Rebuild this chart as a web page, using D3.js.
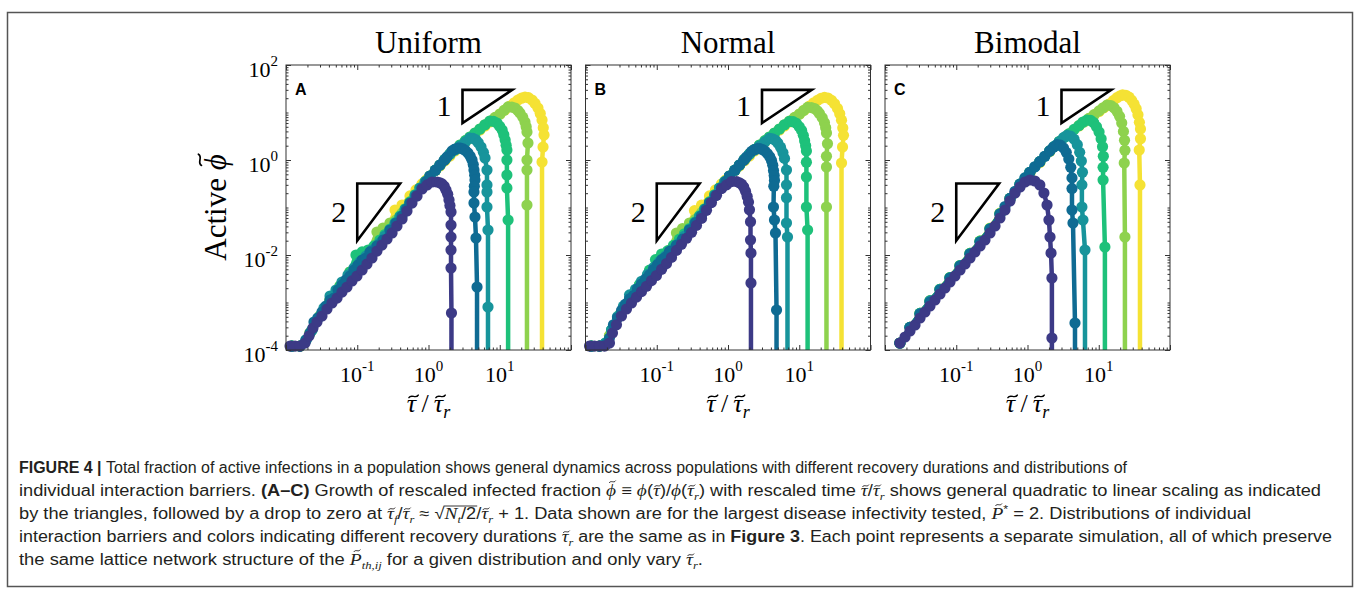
<!DOCTYPE html>
<html><head><meta charset="utf-8">
<script src="https://cdn.jsdelivr.net/npm/d3@7"></script>
<style>body{margin:0;background:#fff}svg{display:block}</style>
</head><body>
<svg id="chart" width="1360" height="592"></svg>
<script>
// ---------------- DATA ----------------
const panelTitles = ["Uniform", "Normal", "Bimodal"];
const panelLetters = ["A", "B", "C"];
const xTickValues = [0.1, 1, 10];
const xTickExponents = ["-1", "0", "1"];
const yTickValues = [1e-4, 1e-2, 1, 100];
const yTickExponents = ["-4", "-2", "0", "2"];
const slopeOneTriangleX = [3, 15];
const slopeOneTriangleY = [6, 30];
const slopeTwoTriangleX = [0.1, 0.4];
const slopeTwoTriangleY = [0.02, 0.32];
const triangleLabels = ["1", "2"];

// Uniform (A): series ordered from shortest to longest recovery duration
const uniform1 = [[0.0114,1.21e-4],[0.0134,1.21e-4],[0.0157,1.21e-4],[0.0185,1.40e-4],[0.0210,1.97e-4],[0.0239,2.90e-4],[0.0272,3.88e-4],[0.0320,5.20e-4],[0.0376,7.30e-4],[0.0442,9.76e-4],[0.0520,1.24e-3],[0.0611,1.66e-3],[0.0718,2.12e-3],[0.0844,2.84e-3],[0.0991,3.61e-3],[0.117,4.83e-3],[0.137,6.47e-3],[0.161,8.65e-3],[0.189,0.0121],[0.222,0.0162],[0.262,0.0217],[0.308,0.0291],[0.361,0.0408],[0.425,0.0573],[0.499,0.0844],[0.586,0.124],[0.690,0.175],[0.811,0.245],[0.953,0.298],[1.12,0.344],[1.32,0.344],[1.45,0.330],[1.55,0.313],[1.66,0.280],[1.76,0.234],[1.86,0.190],[1.94,0.144],[2.00,0.110],[2.07,0.0804],[2.07,0.0428],[2.07,0.0239],[2.07,0.0127],[2.07,5.32e-3],[2.10,6.01e-4],[2.10,0]];
const uniform2 = [[0.0121,1.21e-4],[0.0157,1.21e-4],[0.0191,1.62e-4],[0.0217,2.28e-4],[0.0247,3.88e-4],[0.0281,4.72e-4],[0.0320,6.31e-4],[0.0364,8.44e-4],[0.0415,1.13e-3],[0.0472,1.24e-3],[0.0537,1.83e-3],[0.0611,2.34e-3],[0.0695,2.98e-3],[0.0791,3.61e-3],[0.0900,4.83e-3],[0.1025,6.16e-3],[0.117,7.85e-3],[0.133,8.65e-3],[0.151,0.0116],[0.189,0.0155],[0.230,0.0207],[0.288,0.0336],[0.350,0.0472],[0.425,0.0662],[0.490,0.092],[0.550,0.124],[0.668,0.175],[0.811,0.257],[0.930,0.350],[1.05,0.460],[1.25,0.610],[1.45,0.785],[1.65,0.970],[1.82,1.16],[2.14,1.55],[2.35,1.70],[2.59,1.79],[2.80,1.78],[3.05,1.71],[3.30,1.58],[3.58,1.40],[3.85,1.20],[4.08,1.00],[4.25,0.80],[4.35,0.616],[4.45,0.48],[4.49,0.379],[4.40,0.280],[4.35,0.212],[4.35,0.124],[4.49,0.0631],[4.64,0.0228],[4.80,2.12e-3],[4.80,0]];
const uniform3 = [[0.0121,1.21e-4],[0.0157,1.21e-4],[0.0191,1.62e-4],[0.0232,2.64e-4],[0.0281,4.72e-4],[0.0341,7.66e-4],[0.0415,1.37e-3],[0.0503,1.83e-3],[0.0611,2.70e-3],[0.0741,3.79e-3],[0.0900,5.32e-3],[0.109,7.12e-3],[0.133,9.53e-3],[0.161,0.0127],[0.208,0.0179],[0.245,0.025],[0.288,0.0336],[0.340,0.046],[0.398,0.0631],[0.470,0.090],[0.550,0.124],[0.650,0.180],[0.760,0.257],[0.900,0.350],[1.05,0.460],[1.25,0.610],[1.45,0.785],[1.70,1.03],[2.00,1.34],[2.35,1.63],[2.77,1.97],[3.30,2.40],[3.82,2.90],[4.20,2.85],[4.64,2.64],[5.00,2.30],[5.46,1.88],[5.90,1.45],[6.21,1.10],[6.62,0.616],[6.62,0.298],[6.62,0.212],[6.62,0.1025],[6.84,0.0336],[6.84,8.03e-4],[6.84,0]];
const uniform4 = [[0.0121,1.21e-4],[0.0157,1.21e-4],[0.0191,1.62e-4],[0.0232,2.64e-4],[0.0300,5.20e-4],[0.0415,1.13e-3],[0.0573,2.22e-3],[0.0791,4.39e-3],[0.0960,0.0100],[0.117,0.0116],[0.142,0.0127],[0.172,0.0155],[0.208,0.0207],[0.245,0.027],[0.288,0.0352],[0.340,0.048],[0.398,0.0662],[0.470,0.094],[0.550,0.131],[0.650,0.185],[0.760,0.257],[0.900,0.350],[1.05,0.460],[1.25,0.610],[1.45,0.785],[1.70,1.03],[2.00,1.34],[2.35,1.66],[2.77,2.07],[3.30,2.55],[3.82,3.05],[4.50,3.70],[5.28,4.49],[6.20,5.50],[7.29,6.62],[8.20,6.50],[9.15,6.01],[10.0,5.10],[10.8,4.28],[11.4,3.40],[11.9,2.64],[12.3,2.05],[12.6,1.62],[12.6,1.00],[12.6,0.483],[12.6,0.257],[13.1,0.0546],[13.1,0]];
const uniform5 = [[0.0121,1.21e-4],[0.0157,1.21e-4],[0.0217,2.28e-4],[0.0300,5.20e-4],[0.0415,1.13e-3],[0.0573,2.22e-3],[0.0791,4.39e-3],[0.109,7.12e-3],[0.151,0.0127],[0.189,0.0305],[0.230,0.0370],[0.288,0.0472],[0.350,0.0546],[0.425,0.0766],[0.550,0.131],[0.650,0.185],[0.760,0.257],[0.900,0.350],[1.05,0.460],[1.25,0.610],[1.45,0.785],[1.70,1.03],[2.00,1.34],[2.35,1.66],[2.77,2.07],[3.30,2.55],[3.82,3.05],[4.50,3.70],[5.28,4.49],[6.20,5.50],[7.29,6.62],[8.60,7.90],[10.1,9.30],[11.5,11.1],[13.1,13.1],[14.8,13.0],[16.4,12.4],[18.0,11.0],[19.2,9.76],[21.0,8.0],[22.6,6.31],[23.5,5.0],[24.1,3.88],[24.9,2.28],[24.1,1.00],[24.1,0.616],[24.1,0.113],[24.1,0]];
const uniform6 = [[0.0121,1.21e-4],[0.0157,1.21e-4],[0.0217,2.28e-4],[0.0300,5.20e-4],[0.0415,1.13e-3],[0.0573,2.22e-3],[0.0791,4.39e-3],[0.109,7.12e-3],[0.151,0.0116],[0.208,0.0207],[0.288,0.0449],[0.339,0.0886],[0.425,0.113],[0.550,0.175],[0.668,0.234],[0.811,0.313],[0.930,0.380],[1.05,0.460],[1.25,0.600],[1.45,0.748],[1.70,0.960],[2.00,1.21],[2.35,1.55],[2.77,1.97],[3.30,2.40],[3.82,2.90],[4.50,3.50],[5.28,4.28],[6.20,5.20],[7.29,6.31],[8.60,7.70],[10.1,9.30],[11.8,11.3],[13.9,13.7],[16.0,16.0],[18.0,18.3],[20.2,20.0],[22.6,21.2],[25.3,20.5],[28.4,18.3],[31.3,15.5],[34.4,12.4],[37.0,9.5],[39.2,6.95],[40.8,4.80],[41.8,3.36],[40.5,1.88],[39.2,0.908],[39.2,0]];

// Normal (B)
const normal1 = [[0.0114,1.21e-4],[0.0134,1.21e-4],[0.0157,1.21e-4],[0.0185,1.21e-4],[0.0217,1.40e-4],[0.0239,2.28e-4],[0.0272,3.40e-4],[0.0320,5.20e-4],[0.0376,7.30e-4],[0.0442,9.80e-4],[0.0520,1.30e-3],[0.0611,1.70e-3],[0.0718,2.20e-3],[0.0844,2.90e-3],[0.0991,3.70e-3],[0.117,5.00e-3],[0.137,6.60e-3],[0.161,8.90e-3],[0.189,0.0125],[0.222,0.0168],[0.262,0.0225],[0.308,0.0300],[0.361,0.0420],[0.425,0.0590],[0.499,0.0870],[0.586,0.127],[0.690,0.180],[0.811,0.250],[0.953,0.300],[1.12,0.350],[1.32,0.350],[1.45,0.330],[1.55,0.310],[1.66,0.270],[1.76,0.220],[1.86,0.170],[1.94,0.130],[2.00,0.090],[2.07,0.050],[2.07,0.0207],[2.10,0.0110],[2.10,2.58e-3],[2.10,0]];
const normal2 = [[0.0121,1.21e-4],[0.0157,1.21e-4],[0.0191,1.30e-4],[0.0217,1.80e-4],[0.0247,3.40e-4],[0.0281,4.72e-4],[0.0320,6.80e-4],[0.0364,9.20e-4],[0.0415,1.20e-3],[0.0472,1.40e-3],[0.0537,1.95e-3],[0.0611,2.45e-3],[0.0695,3.10e-3],[0.0791,3.80e-3],[0.0900,4.95e-3],[0.1025,6.30e-3],[0.117,8.00e-3],[0.133,9.00e-3],[0.151,0.0120],[0.189,0.0160],[0.230,0.0215],[0.288,0.0340],[0.350,0.0480],[0.425,0.0670],[0.490,0.093],[0.550,0.126],[0.668,0.178],[0.811,0.260],[0.930,0.350],[1.05,0.460],[1.25,0.610],[1.45,0.785],[1.65,0.970],[1.82,1.16],[2.14,1.52],[2.35,1.66],[2.59,1.74],[2.80,1.73],[3.05,1.66],[3.30,1.54],[3.58,1.36],[3.85,1.17],[4.08,0.98],[4.25,0.78],[4.35,0.60],[4.45,0.47],[4.49,0.370],[4.40,0.280],[4.35,0.1025],[4.49,0.0546],[4.64,0.0291],[4.80,6.95e-4],[4.80,0]];
const normal3 = [[0.0121,1.21e-4],[0.0157,1.21e-4],[0.0191,1.40e-4],[0.0232,2.64e-4],[0.0281,5.00e-4],[0.0341,8.40e-4],[0.0415,1.45e-3],[0.0503,1.90e-3],[0.0611,2.80e-3],[0.0741,3.90e-3],[0.0900,5.40e-3],[0.109,7.20e-3],[0.133,9.60e-3],[0.161,0.0128],[0.208,0.0180],[0.245,0.025],[0.288,0.0340],[0.340,0.046],[0.398,0.0635],[0.470,0.090],[0.550,0.124],[0.650,0.180],[0.760,0.257],[0.900,0.350],[1.05,0.460],[1.25,0.610],[1.45,0.785],[1.70,1.03],[2.00,1.34],[2.35,1.63],[2.77,1.97],[3.30,2.40],[3.82,2.85],[4.20,2.80],[4.64,2.60],[5.00,2.28],[5.46,1.86],[5.90,1.43],[6.21,1.08],[6.62,0.616],[6.62,0.300],[6.62,0.160],[6.62,0.0472],[6.84,0.0239],[6.84,0]];
const normal4 = [[0.0121,1.21e-4],[0.0157,1.21e-4],[0.0191,1.40e-4],[0.0232,2.64e-4],[0.0300,5.40e-4],[0.0415,1.20e-3],[0.0573,2.40e-3],[0.0791,4.80e-3],[0.0960,0.0080],[0.117,0.0105],[0.142,0.0122],[0.172,0.0160],[0.208,0.0215],[0.245,0.028],[0.288,0.0360],[0.340,0.049],[0.398,0.0670],[0.470,0.094],[0.550,0.131],[0.650,0.185],[0.760,0.257],[0.900,0.350],[1.05,0.460],[1.25,0.610],[1.45,0.785],[1.70,1.03],[2.00,1.34],[2.35,1.66],[2.77,2.07],[3.30,2.55],[3.82,3.05],[4.50,3.70],[5.28,4.49],[6.20,5.50],[7.29,6.50],[8.20,6.40],[9.15,5.90],[10.0,5.00],[10.8,4.20],[11.4,3.30],[11.9,2.55],[12.3,2.00],[12.6,1.55],[12.6,0.90],[12.6,0.440],[12.6,0.1025],[13.1,0.0336],[13.1,0]];
const normal5 = [[0.0121,1.21e-4],[0.0157,1.21e-4],[0.0217,2.00e-4],[0.0300,5.20e-4],[0.0415,1.13e-3],[0.0573,2.30e-3],[0.0791,4.50e-3],[0.109,7.30e-3],[0.151,0.0127],[0.189,0.0290],[0.230,0.0360],[0.288,0.0470],[0.350,0.0560],[0.425,0.0780],[0.550,0.131],[0.650,0.185],[0.760,0.257],[0.900,0.350],[1.05,0.460],[1.25,0.610],[1.45,0.785],[1.70,1.03],[2.00,1.34],[2.35,1.66],[2.77,2.07],[3.30,2.55],[3.82,3.05],[4.50,3.70],[5.28,4.49],[6.20,5.50],[7.29,6.62],[8.60,7.90],[10.1,9.30],[11.5,11.0],[13.1,12.8],[14.8,12.7],[16.4,12.1],[18.0,10.8],[19.2,9.50],[21.0,7.8],[22.6,6.10],[23.5,4.8],[24.1,3.70],[24.9,2.20],[24.1,1.20],[24.1,0.713],[24.1,0.1025],[24.1,0]];
const normal6 = [[0.0121,1.21e-4],[0.0157,1.21e-4],[0.0217,2.00e-4],[0.0300,5.20e-4],[0.0415,1.13e-3],[0.0573,2.30e-3],[0.0791,4.50e-3],[0.109,7.30e-3],[0.151,0.0118],[0.208,0.0210],[0.288,0.0440],[0.339,0.0860],[0.425,0.112],[0.550,0.175],[0.668,0.234],[0.811,0.313],[0.930,0.380],[1.05,0.460],[1.25,0.600],[1.45,0.748],[1.70,0.960],[2.00,1.21],[2.35,1.55],[2.77,1.97],[3.30,2.40],[3.82,2.90],[4.50,3.50],[5.28,4.28],[6.20,5.20],[7.29,6.31],[8.60,7.70],[10.1,9.30],[11.8,11.3],[13.9,13.7],[16.0,16.0],[18.0,18.0],[20.2,19.8],[22.6,20.8],[25.3,20.2],[28.4,18.0],[31.3,15.3],[34.4,12.2],[37.0,9.4],[39.2,6.90],[40.8,4.70],[41.8,3.30],[40.5,1.88],[39.2,0.865],[39.2,0]];

// Bimodal (C)
const bimodal1 = [[0.0162,1.40e-4],[0.0191,1.88e-4],[0.0224,2.51e-4],[0.0264,3.36e-4],[0.0310,4.72e-4],[0.0364,6.31e-4],[0.0428,8.44e-4],[0.0503,1.13e-3],[0.0592,1.51e-3],[0.0695,2.02e-3],[0.0817,2.70e-3],[0.0960,3.61e-3],[0.113,4.83e-3],[0.133,6.47e-3],[0.156,8.65e-3],[0.183,0.0116],[0.216,0.0155],[0.253,0.0207],[0.298,0.0291],[0.350,0.0408],[0.411,0.0601],[0.483,0.0886],[0.568,0.137],[0.668,0.202],[0.785,0.270],[0.922,0.344],[1.08,0.379],[1.27,0.361],[1.49,0.298],[1.70,0.202],[1.88,0.113],[2.00,0.0546],[2.07,0.0239],[2.14,0.0110],[2.20,3.28e-3],[2.20,1.79e-4],[2.20,0]];
const bimodal2 = [[0.0162,1.40e-4],[0.0224,3.00e-4],[0.0310,5.70e-4],[0.0428,1.02e-3],[0.0592,1.83e-3],[0.0817,3.27e-3],[0.113,5.85e-3],[0.156,0.0105],[0.216,0.0188],[0.298,0.0352],[0.411,0.0727],[0.483,0.105],[0.568,0.155],[0.668,0.220],[0.785,0.310],[0.922,0.420],[1.08,0.550],[1.27,0.720],[1.49,0.920],[1.75,1.20],[2.05,1.55],[2.30,1.85],[2.59,2.10],[2.90,2.05],[3.20,1.80],[3.50,1.45],[3.80,1.05],[4.05,0.700],[4.21,0.420],[4.21,0.250],[4.21,0.0886],[4.35,0.0472],[4.64,3.70e-4],[4.64,0]];
const bimodal3 = [[0.0162,1.40e-4],[0.0224,3.00e-4],[0.0310,5.90e-4],[0.0428,1.08e-3],[0.0592,1.90e-3],[0.0817,3.30e-3],[0.113,5.90e-3],[0.156,0.0106],[0.216,0.0190],[0.298,0.0355],[0.411,0.0730],[0.568,0.155],[0.785,0.310],[0.922,0.420],[1.08,0.550],[1.27,0.720],[1.49,0.920],[1.75,1.20],[2.05,1.55],[2.40,1.95],[2.80,2.45],[3.20,2.95],[3.58,3.30],[4.00,3.20],[4.50,2.75],[5.00,2.10],[5.40,1.45],[5.70,0.950],[5.90,0.550],[5.80,0.300],[5.80,0.1025],[6.00,0.0546],[6.41,0.0127],[6.41,0]];
const bimodal4 = [[0.0162,1.40e-4],[0.0224,3.00e-4],[0.0310,5.90e-4],[0.0428,1.08e-3],[0.0592,1.90e-3],[0.0817,3.35e-3],[0.113,6.00e-3],[0.156,0.0108],[0.216,0.0195],[0.298,0.0360],[0.411,0.0740],[0.568,0.155],[0.785,0.310],[1.08,0.550],[1.49,0.920],[2.05,1.55],[2.40,1.95],[2.80,2.45],[3.30,3.00],[3.82,3.55],[4.50,4.40],[5.28,5.30],[6.00,6.30],[6.84,6.95],[7.70,6.80],[8.50,6.10],[9.30,5.00],[10.1,3.90],[10.8,2.80],[11.3,1.90],[11.6,1.20],[11.5,0.700],[11.5,0.379],[12.2,0.0147],[12.2,0]];
const bimodal5 = [[0.0162,1.40e-4],[0.0224,3.00e-4],[0.0310,5.90e-4],[0.0428,1.08e-3],[0.0592,1.90e-3],[0.0817,3.35e-3],[0.113,6.00e-3],[0.156,0.0108],[0.216,0.0195],[0.298,0.0360],[0.411,0.0740],[0.568,0.155],[0.785,0.310],[1.08,0.550],[1.49,0.920],[2.05,1.55],[2.80,2.45],[3.82,3.55],[5.28,5.30],[6.20,6.30],[7.29,7.50],[8.60,9.00],[10.1,10.8],[11.5,12.6],[13.1,14.4],[14.8,14.0],[16.4,12.6],[18.0,10.6],[19.6,8.30],[21.0,6.00],[22.2,4.00],[23.0,2.60],[23.3,1.60],[22.8,0.865],[23.3,0.0239],[23.3,0]];
const bimodal6 = [[0.0162,1.40e-4],[0.0224,3.00e-4],[0.0310,5.90e-4],[0.0428,1.08e-3],[0.0592,1.90e-3],[0.0817,3.35e-3],[0.113,6.00e-3],[0.156,0.0108],[0.216,0.0195],[0.298,0.0370],[0.411,0.0760],[0.568,0.155],[0.785,0.300],[1.08,0.520],[1.49,0.880],[2.05,1.50],[2.80,2.40],[3.82,3.50],[5.28,5.20],[7.29,7.40],[8.60,8.80],[10.1,10.5],[11.8,12.5],[13.9,15.0],[16.0,17.8],[18.0,20.5],[20.0,22.5],[21.6,23.4],[24.0,23.0],[26.6,21.0],[29.0,18.0],[31.3,15.0],[33.5,12.0],[35.5,9.00],[37.2,6.20],[38.5,4.50],[38.5,2.80],[37.0,1.62],[37.9,0.298],[37.9,0]];

const seriesColors = ["#3c3a86", "#0f6b93", "#17949b", "#1ec17a", "#8ed24e", "#f5e234"];

// caption segments: [kind, text, overline, tilde]
const captionLines = [
  [["b","FIGURE 4 | "],["n","Total fraction of active infections in a population shows general dynamics across populations with different recovery durations and distributions of"]],
  [["n","individual interaction barriers. "],["b","(A–C)"],["n"," Growth of rescaled infected fraction "],["m","ϕ",0,"t"],["n"," ≡ "],["m","ϕ"],["n","("],["m","τ",0,"x"],["n",")/"],["m","ϕ"],["n","("],["m","τ",0,"x"],["sub","r"],["n",")"],["n"," with rescaled time "],["m","τ",0,"x"],["n","/"],["m","τ",0,"x"],["sub","r"],["n"," shows general quadratic to linear scaling as indicated"]],
  [["n","by the triangles, followed by a drop to zero at "],["m","τ",0,"x"],["sub","f"],["n","/"],["m","τ",0,"x"],["sub","r"],["n"," ≈ √"],["m","N",1],["sub","t",1],["n","/2",1],["n","/"],["m","τ",0,"x"],["sub","r"],["n"," + 1. Data shown are for the largest disease infectivity tested, "],["m","P",0,"t"],["sup","*"],["n"," = 2. Distributions of individual"]],
  [["n","interaction barriers and colors indicating different recovery durations "],["m","τ",0,"x"],["sub","r"],["n"," are the same as in "],["b","Figure 3"],["n",". Each point represents a separate simulation, all of which preserve"]],
  [["n","the same lattice network structure of the "],["m","P",0,"t"],["sub","th,ij"],["n"," for a given distribution and only vary "],["m","τ",0,"x"],["sub","r"],["n","."]]
];

const panelSeries = [
  [uniform1, uniform2, uniform3, uniform4, uniform5, uniform6],
  [normal1, normal2, normal3, normal4, normal5, normal6],
  [bimodal1, bimodal2, bimodal3, bimodal4, bimodal5, bimodal6]
];

// ---------------- DRAWING ----------------
const svg = d3.select("#chart");
const serif = "'Liberation Serif','Times New Roman',serif";
const sans = "'Liberation Sans',Arial,sans-serif";
const W = 285, H = 285, TOP = 65;
const lefts = [286, 585.5, 885];

// draws a tilde accent above character ci of a text node, into parent
function tilde(parent, node, ci, fs, kind, color, italic) {
  const p = node.getStartPositionOfChar(ci), e = node.getEndPositionOfChar(ci);
  const cx = (p.x + e.x) / 2 + (italic ? fs * 0.08 : 0);
  const cy = p.y - fs * (kind === "t" ? 0.84 : 0.60);
  const w = fs * 0.36, a = fs * 0.05;
  parent.append("path")
    .attr("d", `M${cx - w / 2},${cy + a} C${cx - w / 4},${cy - 2.2 * a} ${cx + w / 4},${cy + 2.2 * a} ${cx + w / 2},${cy - a}`)
    .attr("fill", "none").attr("stroke", color).attr("stroke-width", Math.max(0.9, fs * 0.055)).attr("stroke-linecap", "round");
}

// outer frame
svg.append("rect").attr("x", 7.5).attr("y", 12.5).attr("width", 1345).attr("height", 574)
  .attr("fill", "none").attr("stroke", "#555").attr("stroke-width", 1.5);

const xs = d3.scaleLog().domain([0.01, 100]).range([0, W]);
const ys = d3.scaleLog().domain([1e-4, 100]).range([H, 0]);

const xMajor = [0.01, 0.1, 1, 10, 100];
const xMinor = [];
for (let k = -2; k <= 1; k++) for (let m = 2; m <= 9; m++) xMinor.push(m * Math.pow(10, k));
const yMajor = yTickValues;
const yMinor = [];
for (let k = -4; k <= 1; k++) {
  for (let m = 2; m <= 9; m++) yMinor.push(m * Math.pow(10, k));
  if (k % 2 !== 0) yMinor.push(Math.pow(10, k));
}

panelSeries.forEach((series, i) => {
  const g = svg.append("g").attr("transform", `translate(${lefts[i]},${TOP})`);
  const cid = "clip" + i;
  g.append("clipPath").attr("id", cid).append("rect").attr("width", W).attr("height", H);

  const line = d3.line().x(d => xs(d[0])).y(d => d[1] > 0 ? ys(d[1]) : H + 20);
  for (let s = series.length - 1; s >= 0; s--) {
    const data = series[s], col = seriesColors[s];
    const sg = g.append("g");
    sg.append("path").datum(data).attr("d", line).attr("fill", "none")
      .attr("stroke", col).attr("stroke-width", 4.5).attr("stroke-linejoin", "round")
      .attr("clip-path", `url(#${cid})`);
    sg.selectAll("circle").data(data.filter(d => d[1] >= 1e-4)).join("circle")
      .attr("cx", d => xs(d[0])).attr("cy", d => ys(d[1])).attr("r", 5.6).attr("fill", col);
  }

  // ticks via d3 axes (pointing inward)
  const tickCol = "#333";
  function styleAxis(sel) { sel.select(".domain").remove(); sel.selectAll("line").attr("stroke", tickCol); sel.selectAll("text").remove(); }
  g.append("g").attr("transform", `translate(0,${H})`).call(d3.axisBottom(xs).tickValues(xMajor).tickSize(-5)).call(styleAxis);
  g.append("g").attr("transform", `translate(0,${H})`).call(d3.axisBottom(xs).tickValues(xMinor).tickSize(-2.5)).call(styleAxis);
  g.append("g").call(d3.axisTop(xs).tickValues(xMajor).tickSize(-5)).call(styleAxis);
  g.append("g").call(d3.axisTop(xs).tickValues(xMinor).tickSize(-2.5)).call(styleAxis);
  g.append("g").call(d3.axisLeft(ys).tickValues(yMajor).tickSize(-5)).call(styleAxis);
  g.append("g").call(d3.axisLeft(ys).tickValues(yMinor).tickSize(-2.5)).call(styleAxis);
  g.append("g").attr("transform", `translate(${W},0)`).call(d3.axisRight(ys).tickValues(yMajor).tickSize(-5)).call(styleAxis);
  g.append("g").attr("transform", `translate(${W},0)`).call(d3.axisRight(ys).tickValues(yMinor).tickSize(-2.5)).call(styleAxis);

  // box
  g.append("rect").attr("width", W).attr("height", H).attr("fill", "none").attr("stroke", "#333").attr("stroke-width", 1);

  // triangles
  const tri1 = [[slopeOneTriangleX[0], slopeOneTriangleY[1]], [slopeOneTriangleX[1], slopeOneTriangleY[1]], [slopeOneTriangleX[0], slopeOneTriangleY[0]]];
  const tri2 = [[slopeTwoTriangleX[0], slopeTwoTriangleY[1]], [slopeTwoTriangleX[1], slopeTwoTriangleY[1]], [slopeTwoTriangleX[0], slopeTwoTriangleY[0]]];
  [tri1, tri2].forEach((t, k) => {
    g.append("path").attr("d", d3.line().x(d => xs(d[0])).y(d => ys(d[1]))(t) + "Z")
      .attr("fill", "none").attr("stroke", "#000").attr("stroke-width", 2.6).attr("stroke-linejoin", "miter");
    const ymid = (ys(t[0][1]) + ys(t[2][1])) / 2;
    g.append("text").attr("x", xs(t[0][0]) - 11).attr("y", ymid + 10).attr("text-anchor", "end")
      .attr("font-family", serif).attr("font-size", 30).text(triangleLabels[k]);
  });

  // panel letter
  g.append("text").attr("x", 9).attr("y", 30).attr("font-family", sans).attr("font-weight", "bold")
    .attr("font-size", 16).text(panelLetters[i]);

  // title
  g.append("text").attr("x", W / 2).attr("y", -12).attr("text-anchor", "middle")
    .attr("font-family", serif).attr("font-size", 31).text(panelTitles[i]);

  // x tick labels
  xTickValues.forEach((v, k) => {
    const t = g.append("text").attr("x", xs(v)).attr("y", H + 32).attr("text-anchor", "middle")
      .attr("font-family", serif).attr("font-size", 22);
    t.append("tspan").text("10");
    t.append("tspan").attr("dy", -11).attr("font-size", 15).text(xTickExponents[k]);
  });

  // x label
  const xfs = 26;
  const xl = g.append("text").attr("x", W / 2).attr("y", H + 62).attr("text-anchor", "middle")
    .attr("font-family", serif).attr("font-size", xfs).attr("font-style", "italic");
  xl.append("tspan").text("τ");
  xl.append("tspan").attr("font-style", "normal").text("\u2009/\u2009");
  xl.append("tspan").text("τ");
  xl.append("tspan").attr("dy", 6).attr("font-size", 18).text("r");
  tilde(g, xl.node(), 0, xfs, "x", "#000", true);
  tilde(g, xl.node(), 4, xfs, "x", "#000", true);

  if (i === 0) {
    yTickValues.forEach((v, k) => {
      const t = g.append("text").attr("x", -8).attr("y", ys(v) + 12).attr("text-anchor", "end")
        .attr("font-family", serif).attr("font-size", 22);
      t.append("tspan").text("10");
      t.append("tspan").attr("dy", -11).attr("font-size", 15).text(yTickExponents[k]);
    });
    const ylg = g.append("g").attr("transform", `translate(${226 - lefts[0]},${H / 2}) rotate(-90)`);
    const yl = ylg.append("text").attr("text-anchor", "middle").attr("font-family", serif).attr("font-size", 31);
    yl.append("tspan").text("Active ");
    yl.append("tspan").attr("font-style", "italic").text("ϕ");
    tilde(ylg, yl.node(), 7, 31, "t", "#000", true);
  }
});

// caption
const capWidths = [1108, 1302, 1232, 1313, 684];
captionLines.forEach((segs, i) => {
  const t = svg.append("text").attr("x", 19).attr("y", 473 + 23 * i)
    .attr("font-family", sans).attr("font-size", 16).attr("fill", "#231f20")
    .attr("textLength", capWidths[i]).attr("lengthAdjust", "spacingAndGlyphs");
  let shift = 0, idx = 0, ovStart = -1, ovEnd = -1;
  const tildes = [];
  segs.forEach(seg => {
    const [k, s, ov, tl] = seg;
    const ts = t.append("tspan").text(s);
    let target = 0;
    if (k === "b") ts.attr("font-weight", "bold");
    if (k === "m") ts.attr("font-family", serif).attr("font-style", "italic").attr("font-size", 17);
    if (k === "sub") { target = 4; ts.attr("font-family", serif).attr("font-style", "italic").attr("font-size", 11); }
    if (k === "sup") { target = -6; ts.attr("font-size", 11); }
    if (target !== shift) { ts.attr("dy", target - shift); shift = target; }
    if (ov) { if (ovStart < 0) ovStart = idx; ovEnd = idx + s.length - 1; }
    if (tl) tildes.push([idx, tl]);
    idx += s.length;
  });
  const node = t.node();
  tildes.forEach(([ci, kind]) => tilde(svg, node, ci, 17, kind, "#231f20", true));
  if (ovStart >= 0) {
    const a = node.getStartPositionOfChar(ovStart).x;
    const b = node.getEndPositionOfChar(ovEnd).x;
    const yy = 473 + 23 * i - 13;
    svg.append("line").attr("x1", a - 1).attr("x2", b + 1).attr("y1", yy).attr("y2", yy)
      .attr("stroke", "#231f20").attr("stroke-width", 0.9);
  }
});
</script>
</body></html>
